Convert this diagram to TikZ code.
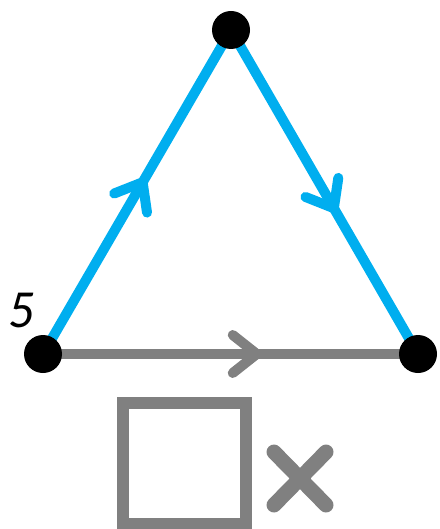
\documentclass[tikz,border=0pt]{standalone}
\usepackage{fontspec}
\newfontfamily\labelfont{Lato}
\usetikzlibrary{decorations.markings}
\definecolor{sky}{RGB}{0,174,239}
\definecolor{slate}{RGB}{128,128,128}
\tikzset{
  vertex/.style={circle,fill=black,inner sep=0pt,minimum size=38pt},
  edge/.style={draw=#1,line width=10pt},
  edge/.default=sky,
  mid chevron/.style={postaction={decorate},decoration={markings,
    mark=at position #1 with {\draw[line width=10pt,line cap=round,line join=round]
      (-24pt,19pt) -- (0,0) -- (-24pt,-19pt);}}},
  tag/.style={font=\labelfont\itshape\fontsize{48}{48}\selectfont,inner sep=0pt},
}
\begin{document}
\begin{tikzpicture}[x=1pt,y=-1pt]
  \useasboundingbox (0,0) rectangle (439,529);
  % corners of the triangle
  \coordinate (a) at (43,354);
  \coordinate (b) at (231,30);
  \coordinate (c) at (418,354);
  \draw[edge=slate,mid chevron=0.57] (a) -- (c);
  \draw[edge,mid chevron=0.53] (a) -- (b);
  \draw[edge,mid chevron=0.55] (b) -- (c);
  \foreach \p in {a,b,c} \node[vertex] (v\p) at (\p) {};
  \node[tag] (five) at (22,311) {5};
  % square and cross below
  \draw[slate,line width=12pt] (123,403) rectangle (246,524);
  \draw[slate,line width=15pt,line cap=round] (274,452) -- (326,505) (274,505) -- (326,452);
\end{tikzpicture}
\end{document}
